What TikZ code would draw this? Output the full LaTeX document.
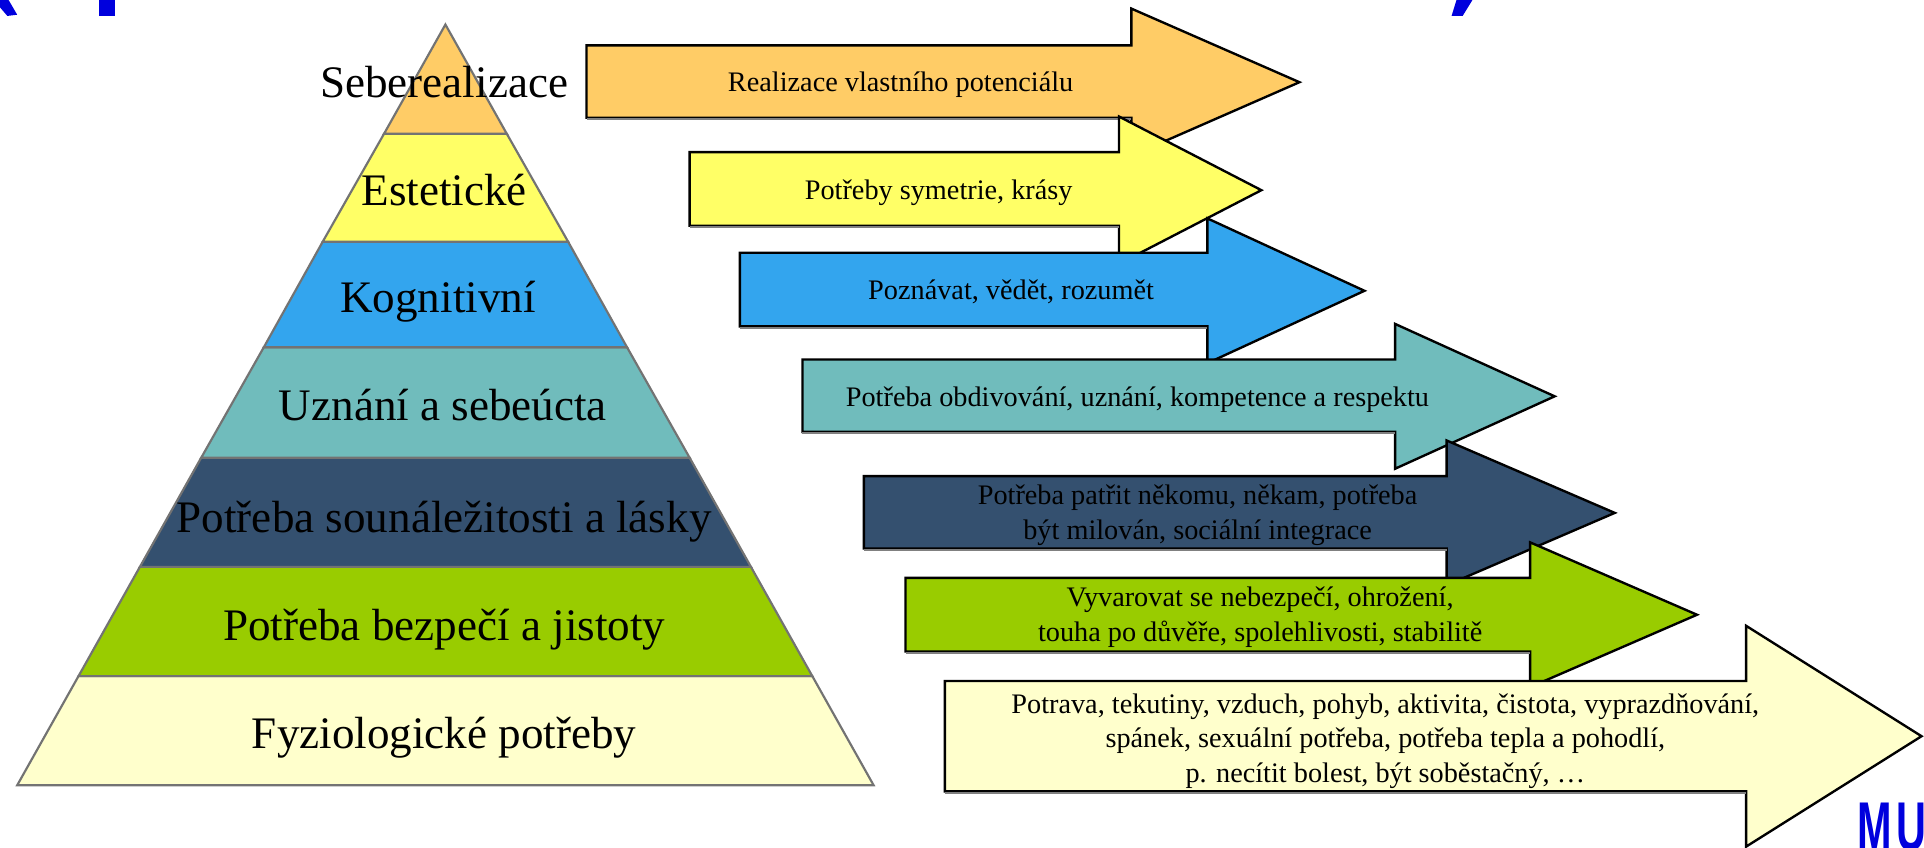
\documentclass[tikz,border=0pt]{standalone}
\usepackage{fontspec}
\setmainfont{Liberation Serif}
\newfontfamily\mufont{Liberation Sans}
\definecolor{cOrange}{HTML}{FFCC66}
\definecolor{cYellow}{HTML}{FFFF66}
\definecolor{cBlue}{HTML}{33A5EE}
\definecolor{cTeal}{HTML}{70BCBC}
\definecolor{cNavy}{HTML}{34506F}
\definecolor{cGreen}{HTML}{99CC00}
\definecolor{cPale}{HTML}{FFFFCC}
\definecolor{cTitle}{HTML}{0000DD}
\tikzset{
  band/.style={draw=black!55,line width=0.5pt,line join=miter},
  arrowbody/.style={draw=black,line width=0.55pt,line join=miter},
  arrowshade/.style={draw=black!50,line width=0.45pt},
  level/.style={font=\fontsize{10.45}{12}\selectfont,inner sep=0pt,align=center},
  note/.style={font=\fontsize{6.55}{7.95}\selectfont,inner sep=0pt,align=center},
  titlefrag/.style={fill=cTitle,draw=none}
}
% #1 left, #2 shaft top, #3 shaft bottom, #4 head x, #5 head top, #6 tip x, #7 head bottom, #8 colour
\newcommand{\bigarrow}[8]{%
  \path[arrowbody,fill=#8] (#1,#2) -- (#4,#2) -- (#4,#5) -- (#6,{(#5+#7)/2}) -- (#4,#7) -- (#4,#3) -- (#1,#3) -- cycle;
  \draw[arrowshade] (#1,#3+1) -- (#4,#3+1);
}
\begin{document}
\begin{tikzpicture}[x=0.01cm,y=-0.01cm]
\useasboundingbox (0,0) rectangle (1568,690.3);
\clip (0,0) rectangle (1568,690.3);
% title fragments cut by the top edge
\path[titlefrag] (0,0) -- (7,0) -- (14,12) -- (6,13) -- (0,6) -- cycle;
\path[titlefrag] (81,0) -- (94,0) -- (94,13) -- (81,13) -- cycle;
\path[titlefrag] (1187,0) -- (1200,0) -- (1192,13) -- (1183,13) -- cycle;
% pyramid
\path[band,fill=cPale]   (14,640) -- (712,640) -- (662,551) -- (64,551) -- cycle;
\path[band,fill=cGreen]  (64,551) -- (662,551) -- (612,462) -- (114,462) -- cycle;
\path[band,fill=cNavy]   (114,462) -- (612,462) -- (562,373) -- (164,373) -- cycle;
\path[band,fill=cTeal]   (164,373) -- (562,373) -- (511,283) -- (215,283) -- cycle;
\path[band,fill=cBlue]   (215,283) -- (511,283) -- (463,197) -- (263,197) -- cycle;
\path[band,fill=cYellow] (263,197) -- (463,197) -- (413,109) -- (313,109) -- cycle;
\path[band,fill=cOrange] (313,109) -- (413,109) -- (363,20) -- cycle;
\node[level] (l1) at (362,67) {Seberealizace};
\node[level] (l2) at (362,155) {Estetické};
\node[level] (l3) at (357,246) {Kognitivní};
\node[level] (l4) at (361,330) {Uznání a sebeúcta};
\node[level] (l5) at (362,425) {Potřeba sounáležitosti a lásky};
\node[level] (l6) at (362,513) {Potřeba bezpečí a jistoty};
\node[level] (l7) at (362,601) {Fyziologické potřeby};
% arrows
\bigarrow{478}{37}{96}{922}{7}{1059}{127}{cOrange}
\node[note] (a1) at (734,69) {Realizace vlastního potenciálu};
\bigarrow{562}{124}{184}{912}{95}{1028}{215}{cYellow}
\node[note] (a2) at (765,157) {Potřeby symetrie, krásy};
\bigarrow{603}{206}{266}{984}{178}{1112}{296}{cBlue}
\node[note] (a3) at (824,238) {Poznávat, vědět, rozumět};
\bigarrow{654}{293}{352}{1137}{264}{1267}{382}{cTeal}
\node[note] (a4) at (927,326) {Potřeba obdivování, uznání, kompetence a respektu};
\bigarrow{704}{388}{447}{1179}{359}{1316}{477}{cNavy}
\node[note] (a5) at (976,420) {Potřeba patřit někomu, někam, potřeba\\být milován, sociální integrace};
\bigarrow{738}{471}{531}{1247}{442}{1383}{560}{cGreen}
\node[note] (a6) at (1027,503) {Vyvarovat se nebezpečí, ohrožení,\\touha po důvěře, spolehlivosti, stabilitě};
\bigarrow{770}{555}{645}{1423}{510}{1566}{690}{cPale}
\node[note] (a7) at (1129,604) {Potrava, tekutiny, vzduch, pohyb, aktivita, čistota, vyprazdňování,\\spánek, sexuální potřeba, potřeba tepla a pohodlí,\\p. necítit bolest, být soběstačný, …};
\node[inner sep=0pt,anchor=north west,text=cTitle,font=\mufont\bfseries\fontsize{16}{16}\selectfont,xscale=0.6] (mu) at (1513,654) {M\hspace{0.12em}U};
\end{tikzpicture}
\end{document}
